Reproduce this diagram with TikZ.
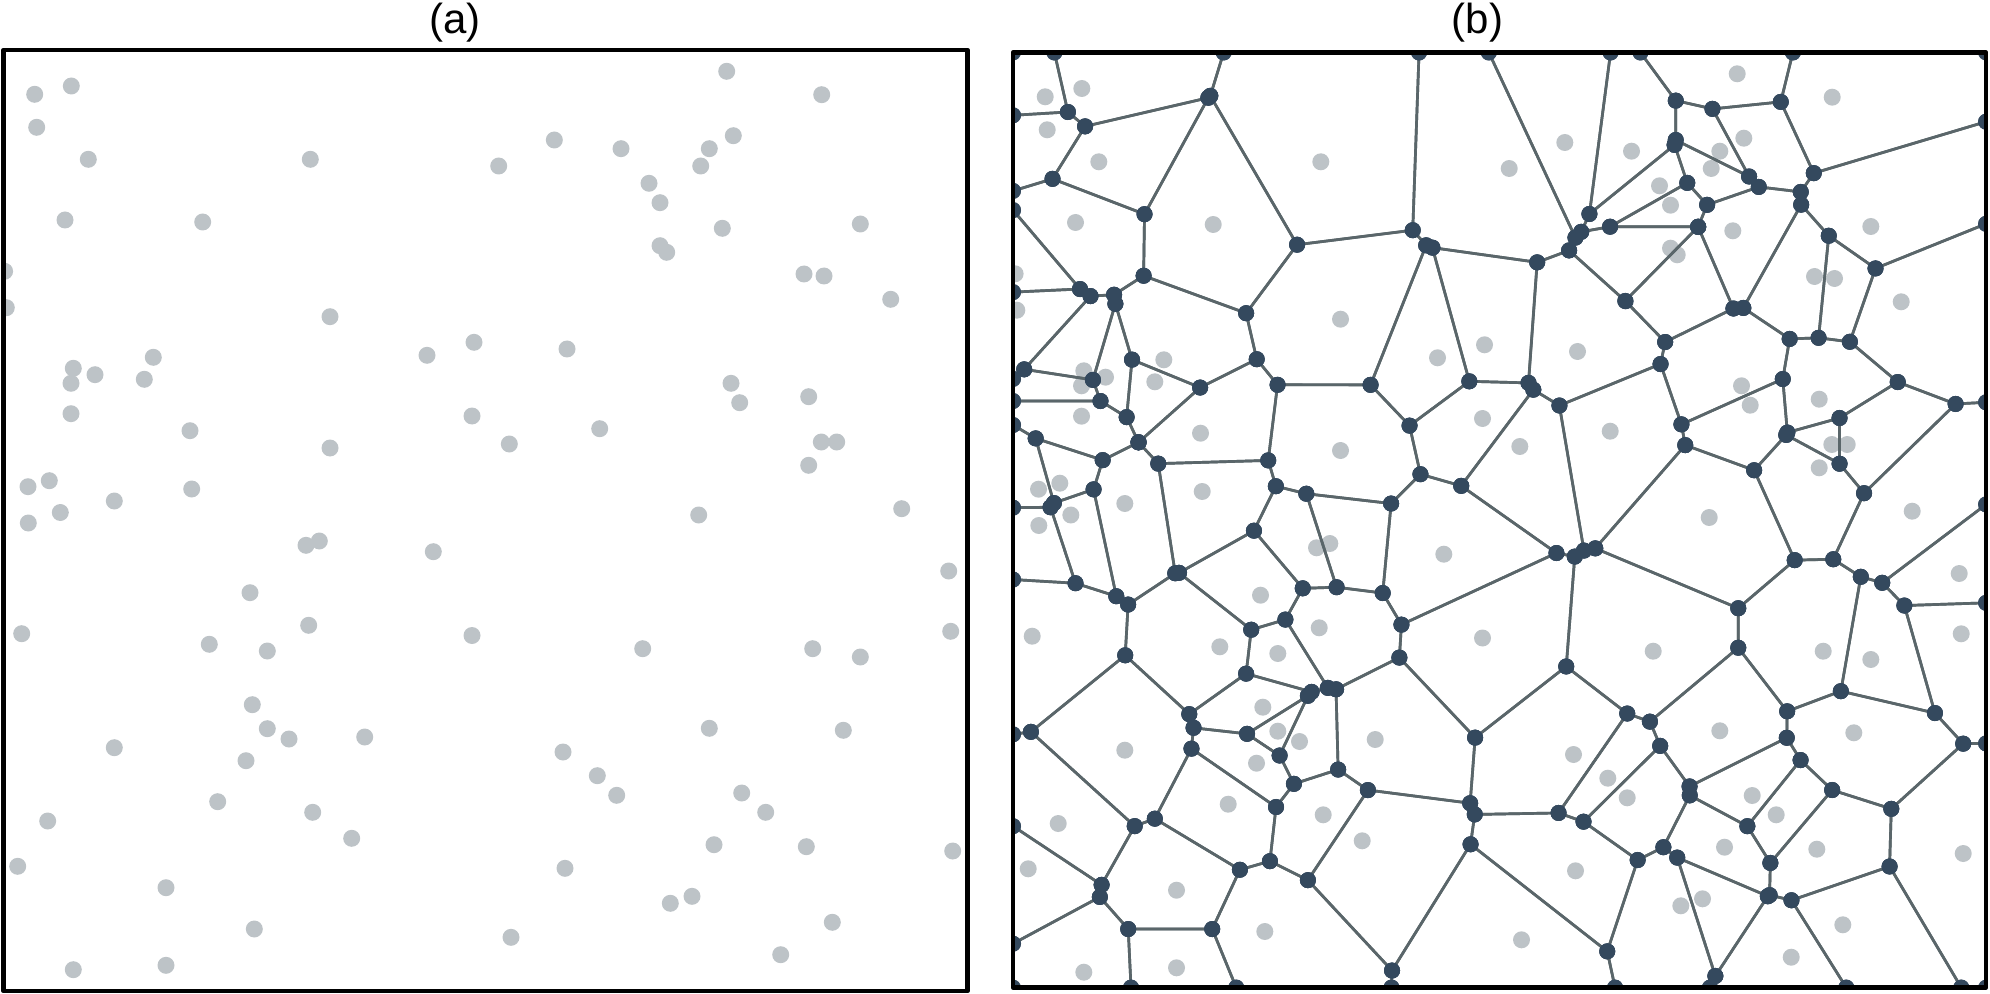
\documentclass[tikz,border=0pt]{standalone}
\usepackage{fontspec}
\setmainfont{Liberation Sans}
\definecolor{sitec}{RGB}{189,195,199}
\definecolor{vertc}{RGB}{52,73,94}
\definecolor{edgec}{RGB}{90,102,106}
\ExplSyntaxOn
\clist_const:Nn \c_vor_sites_clist
 {
  34.7/94.3, 71.3/86, 36.7/127.3, 88.3/159.3, 310.3/159.3, 65/220, 202.7/222, 4.6/271.3, 6.3/307.7, 330/316.7,
  474/342.3, 427/355.3, 153.3/357.3, 73.3/368.3, 95/374.7, 71/383.3, 144.3/379.3, 71/413.7, 472/416, 190/430.7,
  330/448, 49.3/480.7, 28/486.7, 191.7/489, 114.3/501, 60.3/512.5, 28.3/523, 306/545.3, 319.3/541, 433.3/551.7,
  250/592.7, 21.7/633.7, 308.7/625.3, 209.3/644.3, 267.3/651, 472/635.5, 252.3/704.7, 267.3/728.7, 289/739, 364.7/737,
  114.3/747.7, 246/760.7, 217.7/801.7, 47.7/821, 312.7/812.3, 351.7/838.3, 17.7/866.3, 166/887.7, 254.3/929, 73.3/969.7,
  166/965.3, 726.7/71.3, 821.7/94.7, 554.3/140, 621/148.7, 498.7/166, 733.3/135.7, 709.3/148.7, 700.7/166, 649/183.3,
  660/202.7, 722.3/228.3, 860.3/224, 660/245.7, 666.7/252.3, 804/274, 824/276, 890.7/299.3, 567/349, 731/383.3,
  739.7/402.7, 808.7/396.7, 599.7/428.7, 509.3/444, 821.3/442, 836.7/442, 808.7/465.3, 698.7/515, 901.7/508.7, 948.7/571,
  950.7/631.3, 642.7/648.7, 812.7/648.7, 860.3/657, 709.3/728.3, 843.3/730.3, 563/752, 597.3/775.7, 616.7/795.3, 741.7/793,
  765.7/812.3, 714/844.7, 806.3/846.7, 952.7/851, 565/868.3, 670.3/903.3, 692/896.3, 832.3/922.3, 511/937.3, 780.7/954.7
 }
\cs_new_eq:NN \sitelist \c_vor_sites_clist
\intarray_new:Nn \g_vor_sx_intarray {100}
\intarray_new:Nn \g_vor_sy_intarray {100}
\int_new:N \g_vor_n_int
\int_new:N \l_vor_ix_int
\int_new:N \l_vor_iy_int
\int_new:N \l_vor_ax_int
\int_new:N \l_vor_ay_int
\int_new:N \l_vor_c_int
\int_new:N \l_vor_px_int
\int_new:N \l_vor_py_int
\int_new:N \l_vor_pf_int
\int_new:N \l_vor_f_int
\int_new:N \l_vor_qx_int
\int_new:N \l_vor_qy_int
\seq_new:N \l_vor_poly_seq
\seq_new:N \l_vor_new_seq
\tl_new:N \l_vor_tmp_tl
\tl_new:N \g_vor_edges_tl
\tl_new:N \g_vor_dots_tl

\cs_new_protected:Npn \vor_add:w #1/#2 \q_stop
 {
  \int_gincr:N \g_vor_n_int
  \intarray_gset:Nnn \g_vor_sx_intarray { \g_vor_n_int } { \fp_eval:n { round((#1+10.5)*10) } }
  \intarray_gset:Nnn \g_vor_sy_intarray { \g_vor_n_int } { \fp_eval:n { round((#2+2.5)*10) } }
 }
\clist_map_inline:Nn \c_vor_sites_clist { \vor_add:w #1 \q_stop }

\cs_new_protected:Npn \vor_setprev:nn #1#2
 {
  \int_set:Nn \l_vor_px_int {#1}
  \int_set:Nn \l_vor_py_int {#2}
  \int_set:Nn \l_vor_pf_int { \l_vor_ax_int * \l_vor_px_int + \l_vor_ay_int * \l_vor_py_int - \l_vor_c_int }
 }
\cs_new_protected:Npn \vor_inter:nn #1#2
 {
  \int_set:Nn \l_vor_qx_int { \l_vor_px_int + ( #1 - \l_vor_px_int ) * \l_vor_pf_int / ( \l_vor_pf_int - \l_vor_f_int ) }
  \int_set:Nn \l_vor_qy_int { \l_vor_py_int + ( #2 - \l_vor_py_int ) * \l_vor_pf_int / ( \l_vor_pf_int - \l_vor_f_int ) }
  \seq_put_right:Nx \l_vor_new_seq { { \int_use:N \l_vor_qx_int } { \int_use:N \l_vor_qy_int } }
 }
\cs_new_protected:Npn \vor_step:nn #1#2
 {
  \int_set:Nn \l_vor_f_int { \l_vor_ax_int * (#1) + \l_vor_ay_int * (#2) - \l_vor_c_int }
  \int_compare:nNnTF \l_vor_f_int > 0
   {
    \int_compare:nNnF \l_vor_pf_int > 0 { \vor_inter:nn {#1} {#2} }
   }
   {
    \int_compare:nNnT \l_vor_pf_int > 0 { \vor_inter:nn {#1} {#2} }
    \seq_put_right:Nn \l_vor_new_seq { {#1} {#2} }
   }
  \int_set:Nn \l_vor_px_int {#1}
  \int_set:Nn \l_vor_py_int {#2}
  \int_set_eq:NN \l_vor_pf_int \l_vor_f_int
 }
\cs_new_protected:Npn \vor_clip:nn #1#2
 {
  \int_set:Nn \l_vor_ax_int { 2 * ( #1 - \l_vor_ix_int ) }
  \int_set:Nn \l_vor_ay_int { 2 * ( #2 - \l_vor_iy_int ) }
  \int_set:Nn \l_vor_c_int { #1 * #1 + #2 * #2 - \l_vor_ix_int * \l_vor_ix_int - \l_vor_iy_int * \l_vor_iy_int }
  \seq_clear:N \l_vor_new_seq
  \seq_get_right:NN \l_vor_poly_seq \l_vor_tmp_tl
  \exp_after:wN \vor_setprev:nn \l_vor_tmp_tl
  \seq_map_inline:Nn \l_vor_poly_seq { \vor_step:nn ##1 }
  \seq_set_eq:NN \l_vor_poly_seq \l_vor_new_seq
 }
\cs_new_protected:Npn \vor_addpt:nn #1#2
 {
  \tl_gput_right:Nn \g_vor_edges_tl { (#1,#2) -- }
  \tl_gput_right:Nn \g_vor_dots_tl { \fill[vdot] (#1,#2) circle [radius=80] ; }
 }
\cs_new_protected:Npn \vor_output:
 {
  \seq_if_empty:NF \l_vor_poly_seq
   {
    \tl_gput_right:Nn \g_vor_edges_tl { \draw[vedge] }
    \seq_map_inline:Nn \l_vor_poly_seq { \vor_addpt:nn ##1 }
    \tl_gput_right:Nn \g_vor_edges_tl { cycle ; }
   }
 }
\cs_new_protected:Npn \vor_compute:
 {
  \int_step_inline:nn { \g_vor_n_int }
   {
    \seq_clear:N \l_vor_poly_seq
    \seq_put_right:Nn \l_vor_poly_seq { {130} {525} }
    \seq_put_right:Nn \l_vor_poly_seq { {9860} {525} }
    \seq_put_right:Nn \l_vor_poly_seq { {9860} {9875} }
    \seq_put_right:Nn \l_vor_poly_seq { {130} {9875} }
    \int_set:Nn \l_vor_ix_int { \intarray_item:Nn \g_vor_sx_intarray {##1} }
    \int_set:Nn \l_vor_iy_int { \intarray_item:Nn \g_vor_sy_intarray {##1} }
    \int_step_inline:nn { \g_vor_n_int }
     {
      \int_compare:nNnF {####1} = {##1}
       {
        \seq_if_empty:NF \l_vor_poly_seq
         {
          \vor_clip:nn
           { \intarray_item:Nn \g_vor_sx_intarray {####1} }
           { \intarray_item:Nn \g_vor_sy_intarray {####1} }
         }
       }
     }
    \vor_output:
   }
 }
\vor_compute:
\cs_new:Npn \voredges { \tl_use:N \g_vor_edges_tl }
\cs_new:Npn \vordots { \tl_use:N \g_vor_dots_tl }
\ExplSyntaxOff
\begin{document}
\begin{tikzpicture}[x=0.5pt,y=-0.5pt,
  sitedot/.style={fill=sitec},
  vedge/.style={draw=edgec,line width=1.35pt,line join=round},
  vdot/.style={fill=vertc},
  panelframe/.style={draw=black,line width=2.35pt,line join=round},
  paneltitle/.style={anchor=base,inner sep=0pt,font=\fontsize{21}{25}\selectfont}]
\useasboundingbox (0,0) rectangle (1990,994);
\node[paneltitle] (ta) at (455,33.3) {(a)};
\node[paneltitle] (tb) at (1477.5,33.3) {(b)};
% panel (a)
\begin{scope}
  \clip (3.5,50) rectangle (967.5,991);
  \foreach \x/\y in \sitelist {\fill[sitedot] (\x,\y) circle[radius=8.5];}
\end{scope}
\draw[panelframe] (3.5,50) rectangle (967.5,991);
% panel (b)
\begin{scope}
  \clip (1013,52.5) rectangle (1986,987.5);
  \begin{scope}[shift={(1010.5,2.5)}]
    \foreach \x/\y in \sitelist {\fill[sitedot] (\x,\y) circle[radius=8.5];}
  \end{scope}
  \begin{scope}[x=0.05pt,y=-0.05pt,xshift=500pt]
    \voredges
    \vordots
  \end{scope}
\end{scope}
\draw[panelframe] (1013,52.5) rectangle (1986,987.5);
\end{tikzpicture}
\end{document}
